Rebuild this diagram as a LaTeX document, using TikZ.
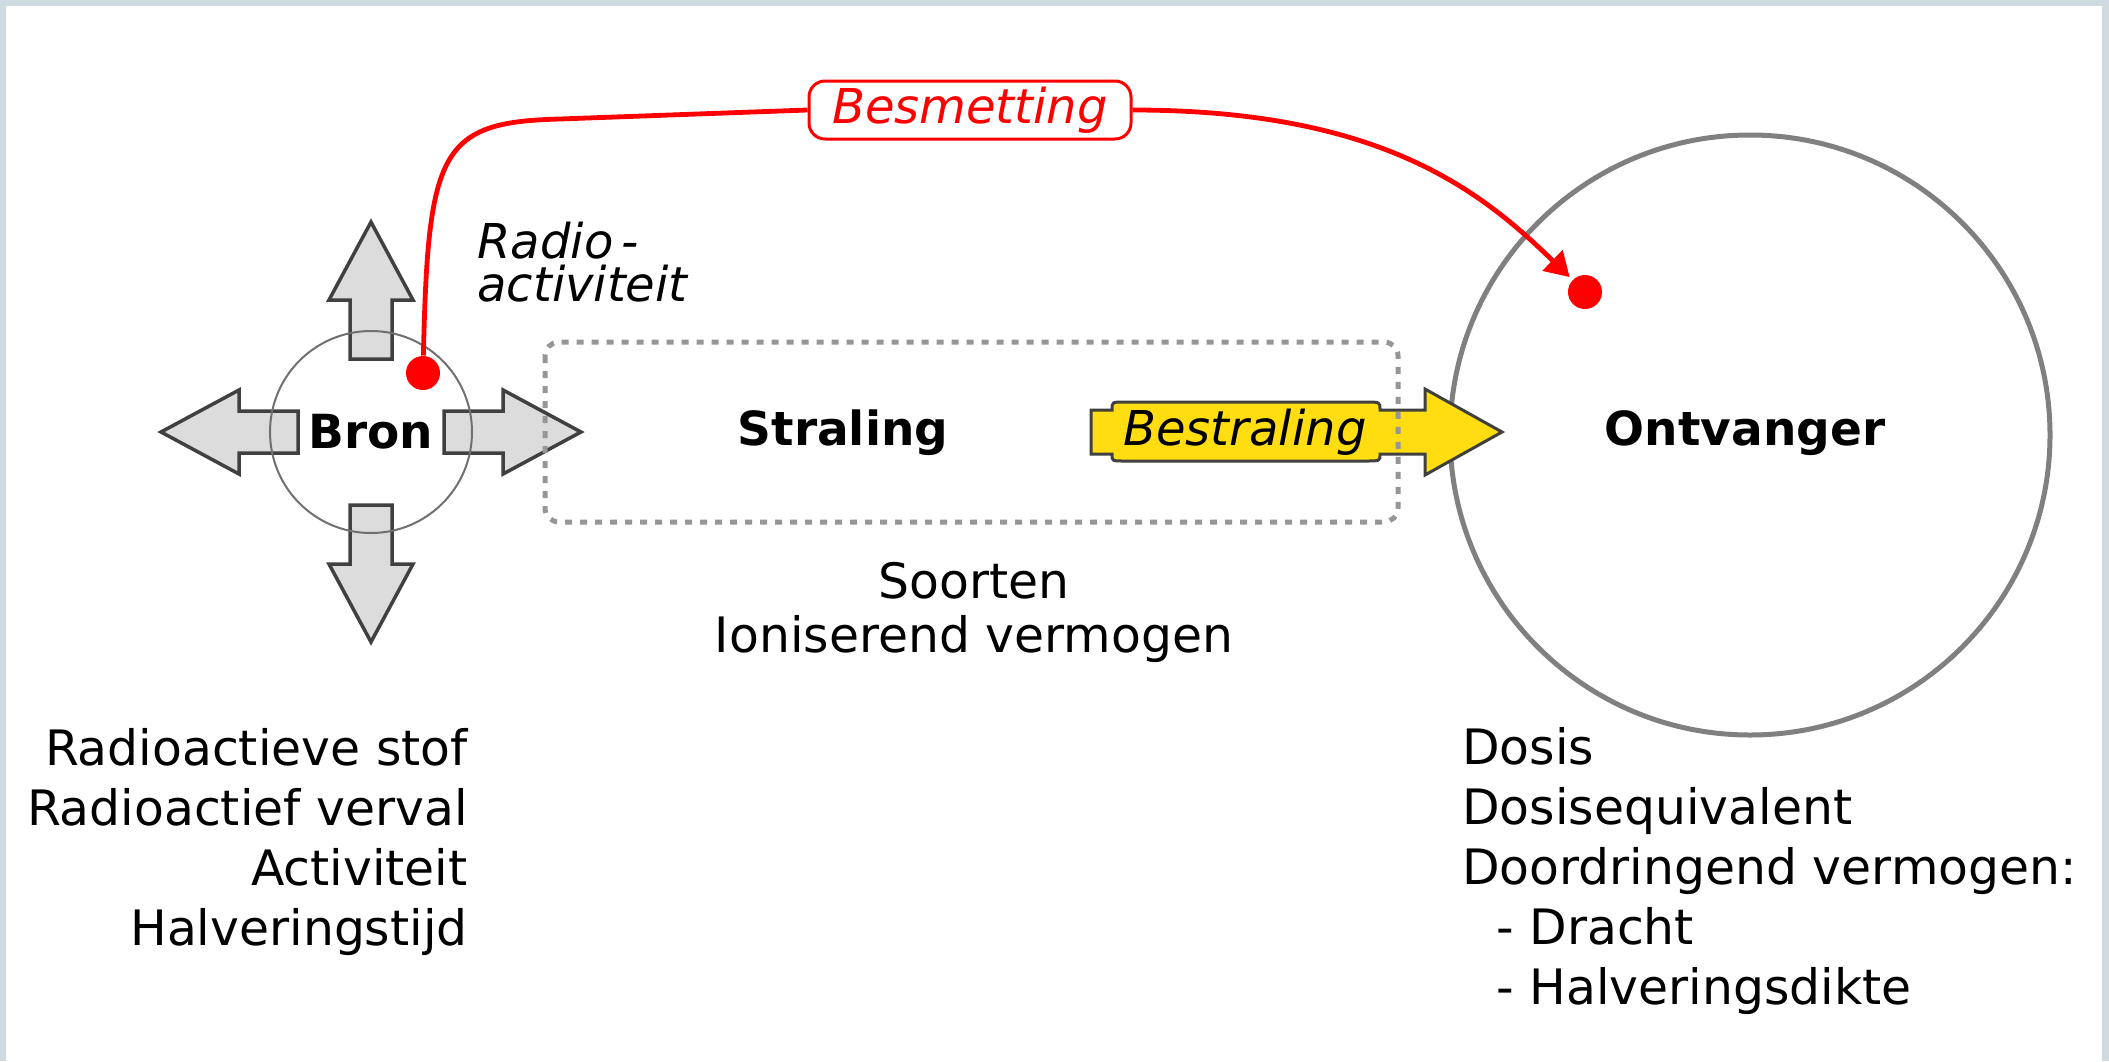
\documentclass[tikz,border=0pt]{standalone}
\usepackage{fontspec}
\setmainfont{DejaVu Sans}
\usetikzlibrary{arrows.meta}

\definecolor{framegray}{RGB}{207,217,224}
\definecolor{arrowfill}{RGB}{220,220,220}
\definecolor{arrowline}{RGB}{64,64,64}
\definecolor{rayyellow}{RGB}{255,221,17}
\definecolor{dotgray}{RGB}{150,150,150}
\definecolor{ringgray}{RGB}{128,128,128}
\definecolor{thingray}{RGB}{112,112,112}

\begin{document}
\begin{tikzpicture}[x=0.5pt, y=-0.5pt,
	plaintext/.style={inner sep=0pt, font=\fontsize{24.4}{30}\selectfont},
	boldtext/.style={inner sep=0pt, font=\fontsize{23.5}{30}\selectfont\bfseries},
	itext/.style={inner sep=0pt, font=\fontsize{24}{30}\selectfont\itshape},
	spread/.style={draw=arrowline, line width=1.75pt, fill=arrowfill},
	redline/.style={draw=red, line width=2.4pt},
	reddot/.style={circle, fill=red, inner sep=0pt, minimum size=17pt}]
	
	% background and frame
	\fill [framegray] (0,0) rectangle (2109,1061);
	\fill [white] (6,6) rectangle (2102,1061);
	\useasboundingbox (0,0) rectangle (2109,1061);
	
	% source: four arrows and ring
	\foreach \ang in {0,90,180,270}
		\draw [spread, shift={(371,432)}, rotate=\ang] (73,-21) -- (132,-21) -- (132,-42) -- (210,0) -- (132,42) -- (132,21) -- (73,21) -- cycle;
	\node [circle, draw=thingray, line width=1pt, minimum size=101pt] (bronring) at (371,432) {};
	\node [boldtext] (bron) at (371,432) {Bron};
	
	% receiver
	\node [circle, draw=ringgray, line width=2.5pt, minimum size=300pt] (ontvring) at (1750,435) {};
	\node [boldtext] (ontv) at (1745,433) {Ontvanger};
	
	% irradiation arrow
	\draw [fill=rayyellow, draw=arrowline, line width=1.5pt] (1091,410) -- (1112,410) .. controls (1112,402) .. (1124,402) -- (1366,402) .. controls (1380,402) .. (1380,410) -- (1425,410) -- (1425,389) -- (1502,432) -- (1425,475) -- (1425,454) -- (1380,454) .. controls (1380,461) .. (1366,461) -- (1124,461) .. controls (1112,461) .. (1112,454) -- (1091,454) -- cycle;
	\node [itext] (bestr) at (1245,432) {Bestraling};
	
	% radiation box
	\draw [draw=dotgray, line width=2.5pt, dash pattern=on 3.5pt off 4pt, rounded corners=7pt] (545,342) rectangle (1398,522);
	\node [boldtext] (straling) at (843,433) {Straling};
	
	% labels
	\node [itext, font=\fontsize{24}{21.5}\selectfont\itshape, align=left, anchor=west] (radio) at (477,262) {Radio\,-\\activiteit};
	\node [plaintext, font=\fontsize{24.4}{27}\selectfont, align=center] (soorten) at (974,612) {Soorten\\Ioniserend vermogen};
	\node [plaintext, align=right, anchor=east] (bronlist) at (468,842) {Radioactieve stof\\Radioactief verval\\Activiteit\\Halveringstijd};
	\node [plaintext, align=left, anchor=west] (ontvlist) at (1462,871) {Dosis\\Dosisequivalent\\Doordringend vermogen:\\\hspace*{17pt}- Dracht\\\hspace*{17pt}- Halveringsdikte};
	
	% contamination
	\node [reddot] (bdot) at (423,373) {};
	\node [reddot] (odot) at (1585,292) {};
	\node [itext, text=red, draw=red, fill=white, line width=1.5pt, rounded corners=8pt, minimum width=161pt, minimum height=29pt] (besm) at (970,110) {Besmetting};
	\coordinate (bend) at (560,119);
	\draw [redline] (bdot) .. controls (428,150) and (440,122) .. (bend) -- (besm.west);
	\draw [redline, -{Triangle[length=12pt,width=14pt]}, shorten >=2pt] (besm.east) .. controls (1380,110) and (1480,190) .. (odot);
	
\end{tikzpicture}
\end{document}
